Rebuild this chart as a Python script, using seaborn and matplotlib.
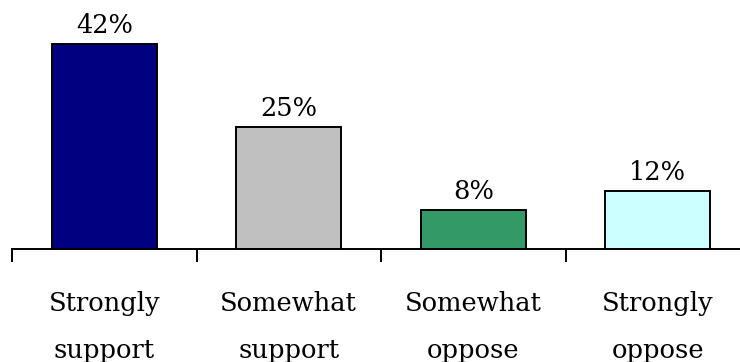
import matplotlib
matplotlib.use("Agg")
import matplotlib.pyplot as plt
import seaborn as sns
import pandas as pd
import numpy as np

categories = ["Strongly\nsupport", "Somewhat\nsupport", "Somewhat\noppose", "Strongly\noppose"]
values = [42, 25, 8, 12]
colors = ["#000080", "#C0C0C0", "#339966", "#CCFFFF"]

sns.set_theme(style="white")
plt.rcParams['font.family'] = ['DejaVu Serif']
plt.rcParams['text.color'] = 'black'
plt.rcParams['xtick.color'] = 'black'
plt.rcParams['xtick.labelcolor'] = 'black'

df = pd.DataFrame({"cat": categories, "val": values})

fig = plt.figure(figsize=(7.4, 3.62), dpi=100)
ax = fig.add_axes([12/740, (362-249)/362, (750-12)/740, 249/362])

sns.barplot(data=df, x="cat", y="val", hue="cat", palette=colors, legend=False,
            width=0.567, edgecolor="black", linewidth=1.4, ax=ax, saturation=1)

ax.set_xlim(-0.5, 3.5)
ax.set_ylim(0, 51.1)
ax.set_xlabel("")
ax.set_ylabel("")
ax.set_yticks([])
for s in ["top", "left", "right"]:
    ax.spines[s].set_visible(False)
ax.spines["bottom"].set_color("black")
ax.spines["bottom"].set_linewidth(1.4)

ax.set_xticks(np.arange(-0.5, 4.0, 1.0))
ax.set_xticklabels([])
ax.tick_params(axis="x", which="major", direction="out", length=9.5, width=1.4, color="black", bottom=True)
ax.set_xticks(np.arange(4), minor=True)
ax.set_xticklabels(categories, minor=True, fontsize=18.5, linespacing=2.1, color="black")
ax.tick_params(axis="x", which="minor", length=0, pad=30)

for i, v in enumerate(values):
    ax.text(i, v + 1.2, f"{v}%", ha="center", va="bottom", fontsize=18.5, color="black")

fig.savefig("out.png", dpi=100)
